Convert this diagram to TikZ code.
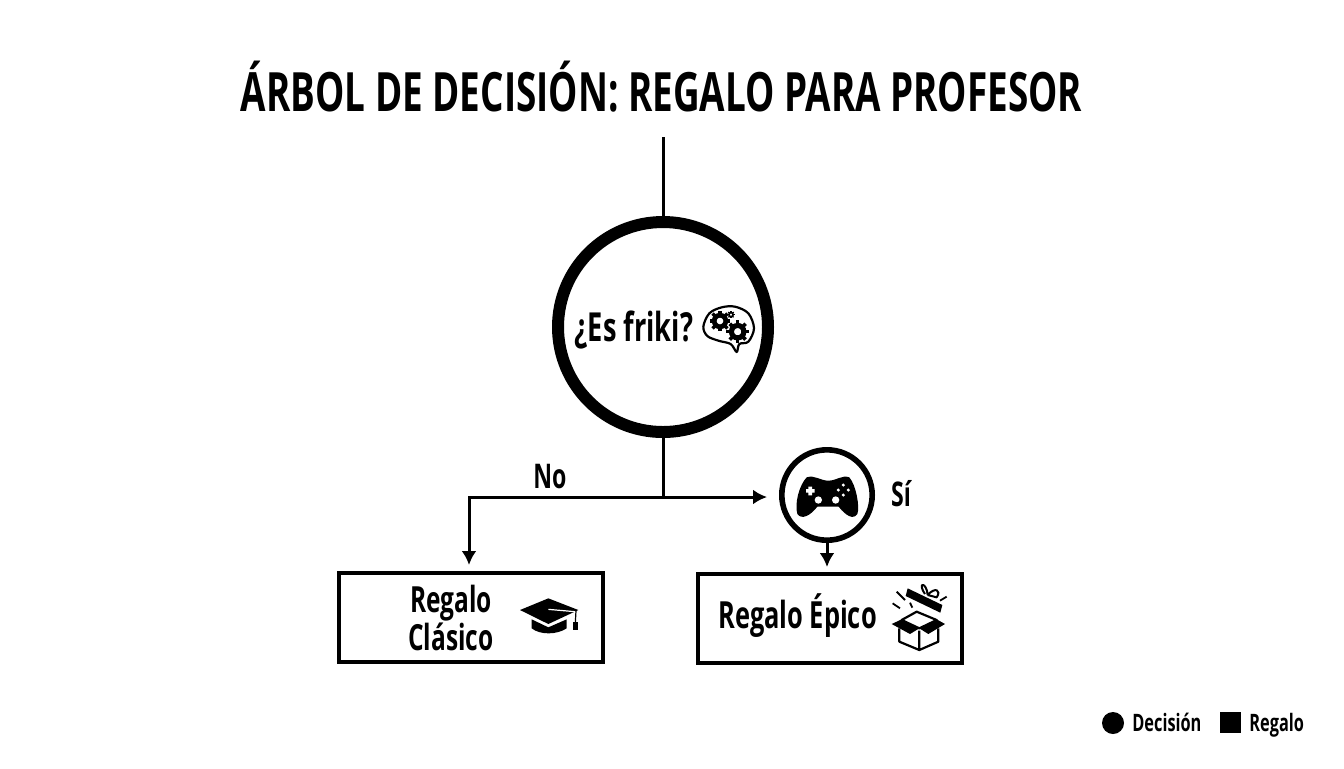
\documentclass[tikz,border=0pt]{standalone}
\usepackage{fontspec}
\setmainfont{Open Sans}[FakeStretch=0.68,BoldFont={Open Sans Bold}]
\usetikzlibrary{arrows.meta}
\tikzset{
  conn/.style={line width=1.5pt,-{Latex[length=7pt,width=7.5pt]}},
  plainconn/.style={line width=1.5pt},
  decision/.style={draw,circle,inner sep=0pt},
  gift/.style={draw,line width=2pt,minimum width=132pt,minimum height=44.5pt,inner sep=0pt},
  label/.style={font=\bfseries\fontsize{18}{19}\selectfont,align=center,inner sep=0pt},
  legendtxt/.style={font=\bfseries\fontsize{12}{12}\selectfont,anchor=base west,inner sep=0pt}
}
% icons, written in the pixel grid of their own crop
\newcommand{\gearicon}[3]{
  \foreach \a in {0,45,...,315}
  \draw[line width=#3*0.06pt] (#1,#2) ++(\a:#3*0.7) -- ++(\a:#3*0.42);
  \draw[line width=#3*0.085pt,fill=white] (#1,#2) circle (#3*0.62);
}
\newcommand{\brainicon}{
  \begin{scope}[shift={(540,280)},scale=1/3]
    \draw[line width=1.1pt,line join=round] plot[smooth cycle,tension=0.55] coordinates
      {(490,140) (508,100) (545,82) (585,80) (625,100) (642,145) (625,185) (598,192)
       (590,216) (572,192) (535,182) (502,168)};
    \gearicon{540}{123}{28}
    \gearicon{593}{155}{30}
    \gearicon{573}{104}{10}
  \end{scope}
}
\newcommand{\padicon}{
  \begin{scope}[shift={(760,440)},scale=1/3]
    \fill (140,112) .. controls (165,104) and (180,122) .. (205,122)
      .. controls (230,122) and (245,104) .. (268,112)
      .. controls (288,135) and (300,200) .. (292,222)
      .. controls (280,240) and (258,228) .. (236,200) -- (172,200)
      .. controls (150,228) and (125,240) .. (112,222)
      .. controls (103,190) and (118,135) .. (140,112) -- cycle;
    \fill[white] (145,140) rectangle (156,166) (138,147) rectangle (164,158);
    \foreach \X/\Y in {250/135,265/150,250/165,235/150}
    \fill[white] (\X,\Y) circle (5);
    \foreach \X in {175,227}
    \fill[white] (\X,180) circle (11);
  \end{scope}
}
\newcommand{\capicon}{
  \begin{scope}[shift={(330,560)},scale=1/3]
    \fill (570,150) -- (655,115) -- (745,150) -- (655,192) -- cycle;
    \fill (605,178) -- (655,202) -- (710,178) -- (710,205)
      .. controls (680,225) and (630,225) .. (605,205) -- cycle;
    \draw[white,line width=0.6pt] (655,148) -- (735,155);
    \draw[line width=0.6pt] (738,152) -- (736,188);
    \fill (729,185) rectangle (744,210);
  \end{scope}
}
\newcommand{\boxicon}{
  \begin{scope}[shift={(760,440)},scale=1/3,line join=round]
    \draw[line width=1.1pt] (418,565) -- (418,605) -- (478,630) -- (535,605) -- (535,565)
      (478,572) -- (478,630);
    \draw[line width=1.1pt] (425,540) -- (470,515) -- (530,540) -- (478,565) -- cycle;
    \fill (395,552) -- (425,538) -- (478,565) -- (450,582) -- cycle;
    \fill (555,552) -- (530,538) -- (478,565) -- (505,582) -- cycle;
    \fill (443,445) -- (547,495) -- (541,518) -- (437,468) -- cycle;
    \draw[line width=1pt] (495,462) .. controls (470,425) and (500,425) .. (503,465)
      (503,465) .. controls (525,440) and (545,450) .. (530,472) -- (503,465);
    \draw[line width=0.9pt] (410,455) -- (435,480) (398,490) -- (420,505)
      (450,488) -- (457,503) (540,482) -- (560,470);
  \end{scope}
}
\begin{document}
\begin{tikzpicture}[x=0.5pt,y=-0.5pt]
  \useasboundingbox (0,0) rectangle (1344,768);
  % title
  \node[font=\bfseries\fontsize{27.1}{30}\selectfont,inner sep=0pt] (title) at (661.5,87) {ÁRBOL DE DECISIÓN: REGALO PARA PROFESOR};
  % decisions
  \node[decision,line width=6pt,minimum size=105pt] (friki) at (663,327) {};
  \node[decision,line width=2.8pt,minimum size=45.2pt] (pad) at (827,495) {};
  % gifts
  \node[gift] (classic) at (470.5,617) {};
  \node[gift] (epic) at (830,618) {};
  % connectors
  \coordinate (start) at (663,137);
  \coordinate (fork) at (663,497);
  \coordinate (turn) at (469,497);
  \coordinate (classictop) at (469,565);
  \coordinate (padleft) at (767,497);
  \draw[plainconn] (start) -- (friki);
  \draw[plainconn] (friki) -- (fork);
  \draw[conn] (fork) -- (turn) -- (classictop);
  \draw[conn] (fork) -- (padleft);
  \draw[conn] (pad) -- (827,567);
  % labels
  \node[label,font=\bfseries\fontsize{20}{24}\selectfont] (ask) at (634,330) {¿Es friki?};
  \node[label,font=\bfseries\fontsize{17}{20}\selectfont] (no) at (550,477) {No};
  \node[label,font=\bfseries\fontsize{17}{20}\selectfont] (si) at (901,494) {Sí};
  \node[label] (classictxt) at (451,618) {Regalo\\Clásico};
  \node[label,font=\bfseries\fontsize{18.7}{20}\selectfont] (epictxt) at (797.5,616) {Regalo Épico};
  % icons
  \brainicon
  \padicon
  \capicon
  \boxicon
  % legend
  \node[circle,fill,minimum size=11pt,inner sep=0pt] (legdec) at (1113,723) {};
  \node[legendtxt] (legdectxt) at (1132,731) {Decisión};
  \node[rectangle,fill,minimum size=10.5pt,inner sep=0pt] (leggift) at (1230.5,722.5) {};
  \node[legendtxt] (leggifttxt) at (1249,731) {Regalo};
\end{tikzpicture}
\end{document}
